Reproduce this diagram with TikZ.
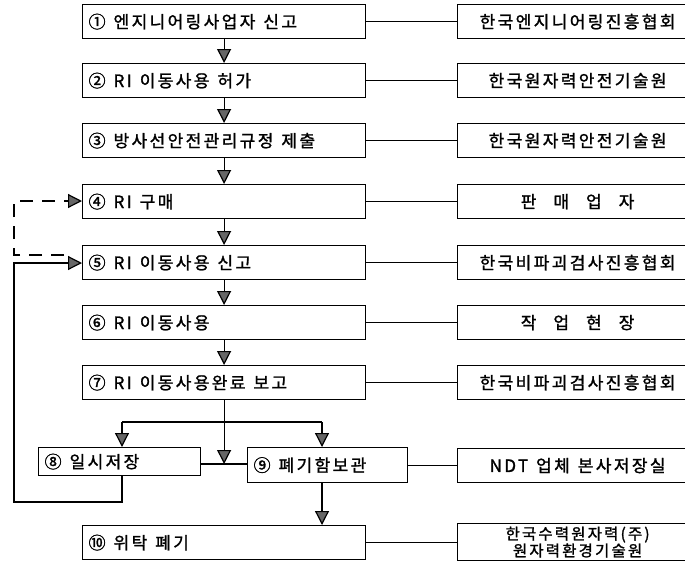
\documentclass[tikz,border=0pt]{standalone}
\usepackage{fontspec}
\newfontfamily\kr{Noto Sans CJK KR}[FakeBold=1.4,LetterSpace=14]
\newcommand\gp{\hspace{8pt}}
\usetikzlibrary{arrows.meta}
\begin{document}
\begin{tikzpicture}[x=1pt,y=-1pt,
  box/.style={draw,line width=1.2pt,anchor=north west,inner xsep=6pt,inner ysep=0pt,font=\kr\fontsize{17}{18}\selectfont},
  mainbox/.style={box,minimum width=283pt,minimum height=34pt,text width=271pt,align=left},
  rightbox/.style={box,minimum width=240pt,minimum height=34pt,text width=228pt,align=center},
  conn/.style={line width=1.2pt},
  arr/.style={line width=1.2pt,-{Triangle[width=14pt,length=14pt,fill=black!60]}},
  dsh/.style={line width=1.2pt,dash pattern=on 13pt off 9pt}]
\useasboundingbox (0,0) rectangle (685,563);
\clip (0,0) rectangle (685,563);
\fill[white] (0,0) rectangle (685,563);
% main column
\node[mainbox] (b1) at (82,4) {①\gp 엔지니어링사업자\gp 신고};
\node[mainbox] (b2) at (82,63) {②\gp RI\gp 이동사용\gp 허가};
\node[mainbox] (b3) at (82,123) {③\gp 방사선안전관리규정\gp 제출};
\node[mainbox] (b4) at (82,184) {④\gp RI\gp 구매};
\node[mainbox] (b5) at (82,245) {⑤\gp RI\gp 이동사용\gp 신고};
\node[mainbox] (b6) at (82,305) {⑥\gp RI\gp 이동사용};
\node[mainbox] (b7) at (82,365) {⑦\gp RI\gp 이동사용완료\gp 보고};
\node[box,minimum width=162pt,minimum height=28pt,text width=150pt,align=left] (b8) at (38,447) {⑧\gp 일시저장};
\node[box,minimum width=160pt,minimum height=35pt,text width=148pt,align=left] (b9) at (247,447) {⑨\gp 폐기함보관};
\node[mainbox] (b10) at (82,525) {⑩\gp 위탁\gp 폐기};
% right column
\node[rightbox] (r1) at (457,4) {한국엔지니어링진흥협회};
\node[rightbox] (r2) at (457,63) {한국원자력안전기술원};
\node[rightbox] (r3) at (457,123) {한국원자력안전기술원};
\node[rightbox] (r4) at (457,184) {판\hspace{17pt}매\hspace{17pt}업\hspace{17pt}자};
\node[rightbox] (r5) at (457,245) {한국비파괴검사진흥협회};
\node[rightbox] (r6) at (457,305) {작\hspace{17pt}업\hspace{17pt}현\hspace{17pt}장};
\node[rightbox] (r7) at (457,365) {한국비파괴검사진흥협회};
\node[rightbox] (r9) at (457,448) {NDT\gp 업체\gp 본사저장실};
\node[rightbox,minimum height=37pt,font=\kr\fontsize{15.5}{12.5}\selectfont] (r10) at (457,523) {한국수력원자력(주)\\원자력환경기술원};
% horizontal connectors
\foreach \i in {1,2,3,4,5,6,7,9,10}
  \draw[conn] (b\i.east) -- (b\i.east -| r\i.west);
% vertical arrows
\draw[arr] (b1.south) -- (b2.north);
\draw[arr] (b2.south) -- (b3.north);
\draw[arr] (b3.south) -- (b4.north);
\draw[arr] (b4.south) -- (b5.north);
\draw[arr] (b5.south) -- (b6.north);
\draw[arr] (b6.south) -- (b7.north);
% branch
\coordinate (br) at (b7.south |- 0,422);
\coordinate (brL) at (122,422);
\coordinate (brR) at (322,422);
\coordinate (mid) at (b7.south |- 0,464);
\draw[conn] (b7.south) -- (br);
\draw[conn] (brL) -- (brR);
\draw[arr] (brL) -- (b8.north -| brL);
\draw[arr] (brR) -- (b9.north -| brR);
\draw[conn] (b8.east |- mid) -- (b9.west |- mid);
\draw[arr] (br) -- (mid);
\draw[arr] (b9.south -| brR) -- (b10.north -| brR);
% loop from 8 back to 5
\coordinate (lb) at (122,502);
\coordinate (lc) at (14,502);
\coordinate (ld) at (14,263);
\draw[arr] (b8.south -| lb) -- (lb) -- (lc) -- (ld) -- (b5.west |- ld);
% dashed loop from 5 back to 4
\coordinate (da) at (64,255);
\coordinate (db) at (14,255);
\coordinate (dc) at (14,201);
\draw[dsh,arr] (da) -- (db) -- (dc) -- (b4.west |- dc);
\end{tikzpicture}
\end{document}
